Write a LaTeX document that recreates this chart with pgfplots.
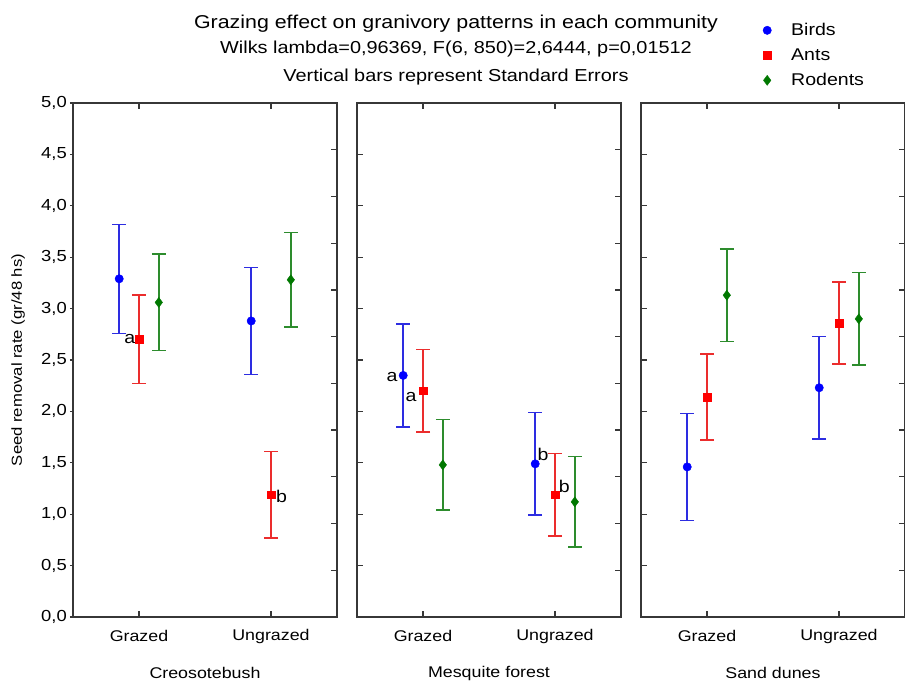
\documentclass[border=0pt]{standalone}
\usepackage{pgfplots}
\pgfplotsset{compat=1.18}
\usepackage{fontspec}
\setmainfont{Liberation Sans}[FakeStretch=1.15]

\definecolor{cbird}{RGB}{0,0,255}
\definecolor{cbirdbar}{RGB}{45,45,225}
\definecolor{cant}{RGB}{255,0,0}
\definecolor{cantbar}{RGB}{235,45,45}
\definecolor{crod}{RGB}{0,120,0}
\definecolor{crodbar}{RGB}{45,140,45}
\definecolor{frame}{RGB}{55,55,55}

\newcommand\fs[1]{\fontsize{#1}{#1}\selectfont}

\pgfplotsset{
  base/.style={
    scale only axis, width=264pt, height=514pt,
    xmin=0.5, xmax=2.5, ymin=0, ymax=5,
    axis line style={frame, line width=1.6pt},
    tick style={frame, line width=1.2pt},
  },
  panel/.style={
    base,
    xtick={1,2}, xticklabels={Grazed,Ungrazed},
    xtick pos=both, ytick pos=left,
    tick align=inside, major tick length=6pt,
    xticklabel style={font=\fs{15.5}, anchor=center, yshift=-19pt},
    xlabel style={font=\fs{15.5}, at={(axis description cs:0.5,-0.109)}, anchor=center},
    clip=false,
  },
  rticks/.style={
    base, ymin=0, ymax=11, ytick={1,...,10}, yticklabels={},
    axis y line*=right, axis x line=none,
    tick align=inside, major tick length=6pt,
  },
  eb/.style={error bars/.cd, y dir=both, y explicit,
     error bar style={#1, line width=1.5pt},
     error mark options={rotate=90, mark size=7pt, line width=1.5pt, #1},
     /pgfplots/.cd},
  birds/.style={only marks, mark=*, mark size=4.2pt, color=cbird, eb=cbirdbar},
  ants/.style={only marks, mark=square*, mark size=3.8pt, color=cant, eb=cantbar},
  rods/.style={only marks, mark=diamond*, mark size=5pt, color=crod, eb=crodbar},
}

\begin{document}
\begin{tikzpicture}
\useasboundingbox (-73pt,-64pt) rectangle (832pt,617pt);

% titles
\node[font=\fs{18.6}, anchor=base] at (383pt,588.7pt) {Grazing effect on granivory patterns in each community};
\node[font=\fs{17.3}, anchor=base] at (383pt,563.7pt) {Wilks lambda=0,96369, F(6, 850)=2,6444, p=0,01512};
\node[font=\fs{17.3}, anchor=base] at (383pt,535.3pt) {Vertical bars represent Standard Errors};

% ---- Creosotebush
\begin{axis}[panel, at={(0pt,0pt)}, anchor=south west, ytick=\empty, xlabel={Creosotebush}]
\addplot[birds] coordinates {(0.85,3.29) +- (0,0.53) (1.85,2.88) +- (0,0.52)};
\addplot[ants]  coordinates {(1.00,2.70) +- (0,0.43) (2.00,1.19) +- (0,0.42)};
\addplot[rods]  coordinates {(1.15,3.06) +- (0,0.47) (2.15,3.28) +- (0,0.46)};
\node[font=\fs{17}] at (axis cs:0.93,2.70) {a};
\node[font=\fs{17}] at (axis cs:2.08,1.17) {b};
\end{axis}
\begin{axis}[base, at={(0pt,0pt)}, anchor=south west,
  axis y line*=left, axis x line=none,
  ytick={0,0.5,...,5}, tick align=outside, major tick length=3pt,
  yticklabel style={font=\fs{16}, anchor=east, inner sep=0pt, xshift=-3pt,
    /pgf/number format/.cd, fixed, fixed zerofill, precision=1, use comma, assume math mode=true},
  ylabel={Seed removal rate (gr/48 hs)},
  ylabel style={font=\fs{14.5}, at={(axis description cs:-0.208,0.5)}, anchor=center}]
\end{axis}
\begin{axis}[rticks, at={(0pt,0pt)}, anchor=south west]
\end{axis}

% ---- Mesquite forest
\begin{axis}[panel, at={(284pt,0pt)}, anchor=south west, ytick={0,0.5,...,5}, yticklabels={}, xlabel={Mesquite forest}]
\addplot[birds] coordinates {(0.85,2.35) +- (0,0.50) (1.85,1.49) +- (0,0.50)};
\addplot[ants]  coordinates {(1.00,2.20) +- (0,0.40) (2.00,1.19) +- (0,0.40)};
\addplot[rods]  coordinates {(1.15,1.48) +- (0,0.44) (2.15,1.12) +- (0,0.44)};
\node[font=\fs{17}] at (axis cs:0.765,2.33) {a};
\node[font=\fs{17}] at (axis cs:0.91,2.14) {a};
\node[font=\fs{17}] at (axis cs:1.91,1.58) {b};
\node[font=\fs{17}] at (axis cs:2.07,1.27) {b};
\end{axis}
\begin{axis}[rticks, at={(284pt,0pt)}, anchor=south west]
\end{axis}

% ---- Sand dunes
\begin{axis}[panel, at={(568pt,0pt)}, anchor=south west, ytick={0,0.5,...,5}, yticklabels={}, xlabel={Sand dunes},
  legend style={at={(axis description cs:0.45,1.163)}, anchor=north west, draw=none, fill=none,
    font=\fs{17}, row sep=7.5pt},
  legend cell align=left,
  legend image code/.code={\path[draw=none] (0pt,0pt) -- (22pt,0pt); \draw[#1] plot coordinates {(0pt,0pt)};}]
\addlegendimage{only marks, mark=*, mark size=4.2pt, cbird}
\addlegendentry{Birds}
\addlegendimage{only marks, mark=square*, mark size=3.8pt, cant}
\addlegendentry{Ants}
\addlegendimage{only marks, mark=diamond*, mark size=5pt, crod}
\addlegendentry{Rodents}
\addplot[birds, forget plot] coordinates {(0.85,1.46) +- (0,0.52) (1.85,2.23) +- (0,0.50)};
\addplot[ants, forget plot]  coordinates {(1.00,2.14) +- (0,0.42) (2.00,2.86) +- (0,0.40)};
\addplot[rods, forget plot]  coordinates {(1.15,3.13) +- (0,0.45) (2.15,2.90) +- (0,0.45)};
\end{axis}
\begin{axis}[rticks, at={(568pt,0pt)}, anchor=south west]
\end{axis}
\end{tikzpicture}
\end{document}
